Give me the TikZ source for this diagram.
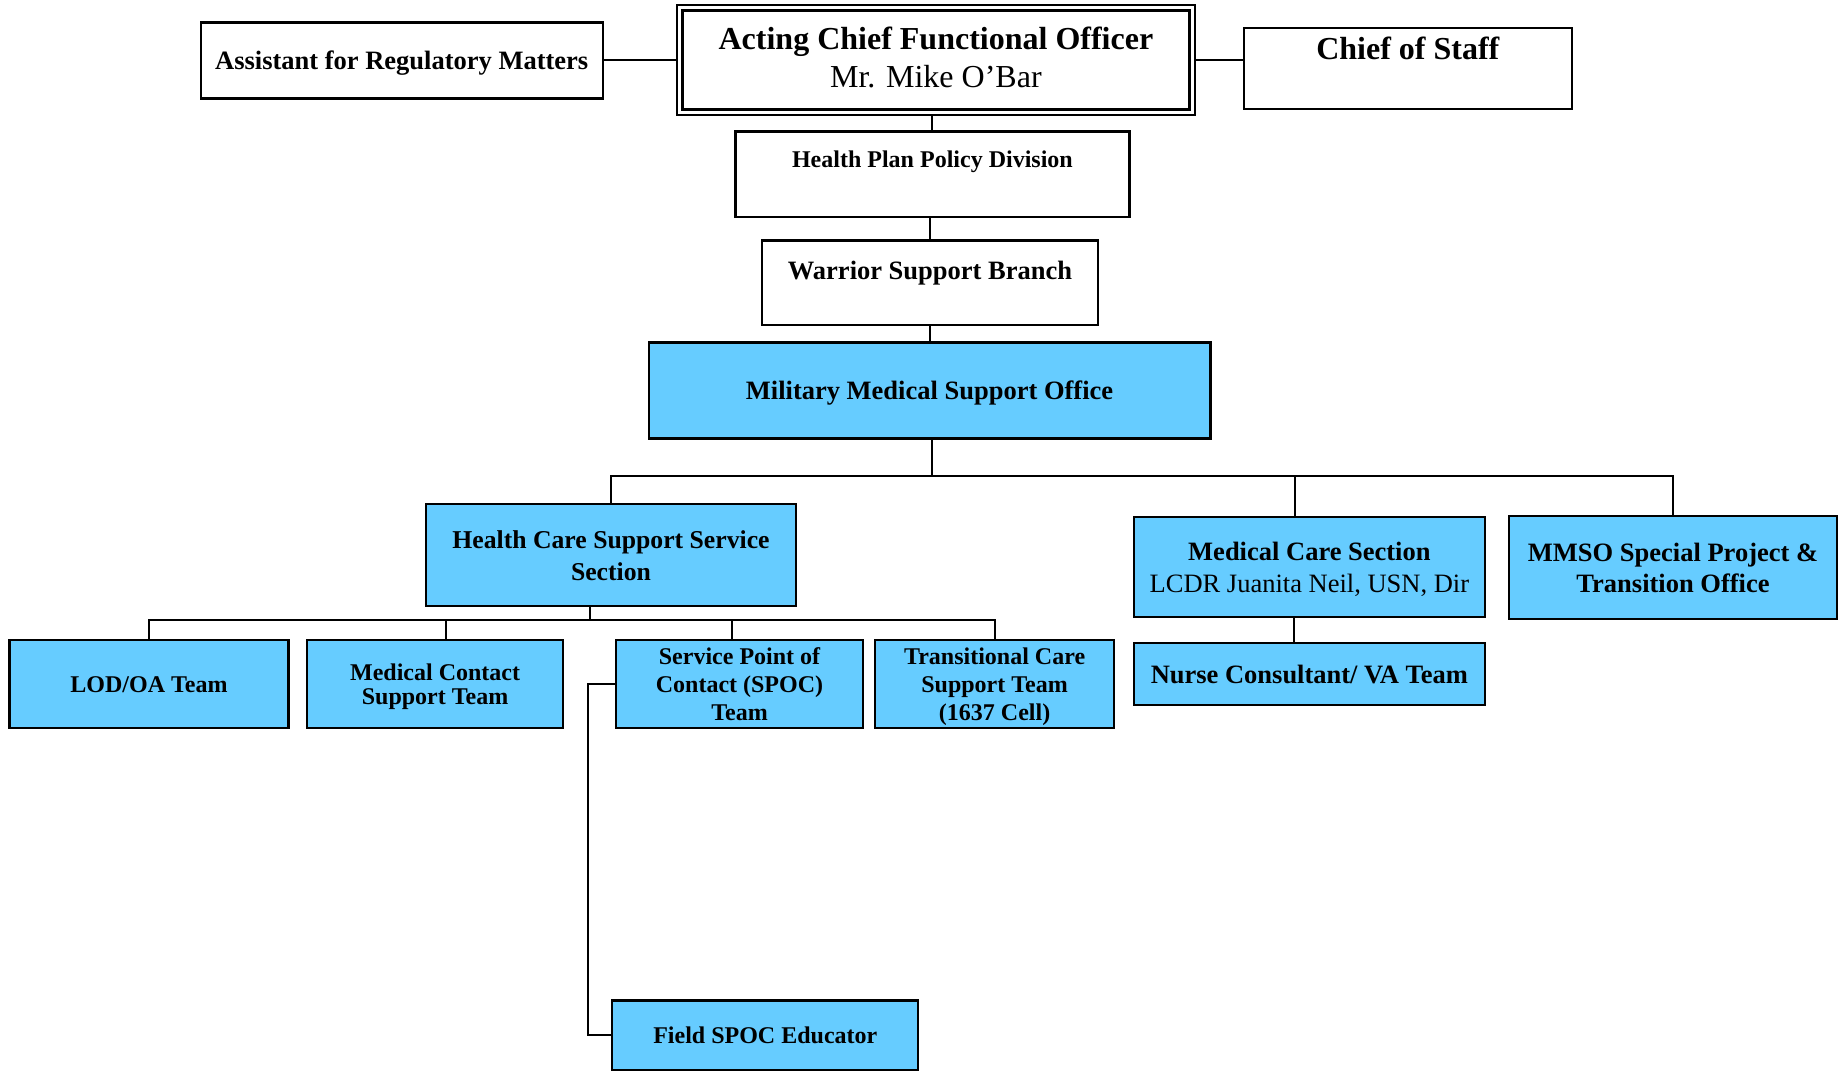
\documentclass[tikz,border=0pt]{standalone}
\usepackage{fontspec}
\setmainfont{Liberation Serif}
\definecolor{skyb}{RGB}{102,204,255}
\begin{document}
\begin{tikzpicture}[x=1pt,y=-1pt,
  box/.style={draw, line width=2.2pt, inner sep=0pt, align=center, text depth=0pt},
  bluebox/.style={box, fill=skyb},
  conn/.style={line width=2pt},
  lbl/.style={text depth=0pt, inner sep=0pt},
  fbig/.style={font=\fontsize{32}{37.5}\selectfont},
  fmid/.style={font=\bfseries\fontsize{26.5}{31.7}\selectfont},
  fhc/.style={font=\bfseries\fontsize{25.7}{31.7}\selectfont},
  fsm/.style={font=\bfseries\fontsize{24}{28}\selectfont},
  fsmt/.style={font=\bfseries\fontsize{24}{23.5}\selectfont}]
\useasboundingbox (0,0) rectangle (1839,1071);
% top row
\node[box, fmid, minimum width=402pt, minimum height=76pt] (asst) at (401.7,60.4) {Assistant for Regulatory Matters};
\node[box, line width=2.6pt, minimum width=518pt, minimum height=110pt] (acting) at (935.9,59.9) {};
\draw[line width=3pt] ([shift={(6.5pt,-6.5pt)}]acting.north west) rectangle ([shift={(-6.5pt,6.5pt)}]acting.south east);
\node[fbig, align=center] (actingtxt) at (935.9,57.5) {\textbf{Acting Chief Functional Officer}\\Mr. Mike O’Bar};
\node[box, minimum width=327.6pt, minimum height=81pt] (chief) at (1407.8,68.5) {};
\node[lbl, font=\bfseries\fontsize{32}{37.5}\selectfont] (chieftxt) at ([yshift=-21pt]chief.north) {Chief of Staff};
% chain
\node[box, minimum width=394pt, minimum height=85.6pt] (hppd) at (932.4,174.2) {};
\node[lbl, fsm] (hppdtxt) at ([yshift=-29pt]hppd.north) {Health Plan Policy Division};
\node[box, minimum width=335.5pt, minimum height=84.5pt] (warrior) at (930,282.7) {};
\node[lbl, fmid] (warriortxt) at ([yshift=-31pt]warrior.north) {Warrior Support Branch};
\node[bluebox, fmid, minimum width=561.8pt, minimum height=96pt] (mmso) at (929.5,390.5) {Military Medical Support Office};
% second level
\node[bluebox, fhc, minimum width=370.6pt, minimum height=102pt] (hcss) at (611,555.3) {Health Care Support Service\\Section};
\node[bluebox, fmid, minimum width=350.7pt, minimum height=99.7pt] (mcs) at (1309.4,567) {Medical Care Section\\\mdseries LCDR Juanita Neil, USN, Dir};
\node[bluebox, fmid, minimum width=327.3pt, minimum height=103.3pt] (special) at (1673,567.7) {MMSO Special Project \&\\Transition Office};
\node[bluebox, fmid, minimum width=350.7pt, minimum height=62pt] (nurse) at (1309.4,673.8) {Nurse Consultant/ VA Team};
% third level
\node[bluebox, fsm, minimum width=279pt, minimum height=88pt] (lod) at (149,684.3) {LOD/OA Team};
\node[bluebox, fsmt, minimum width=255.7pt, minimum height=88pt] (mct) at (435.1,684.3) {Medical Contact\\Support Team};
\node[bluebox, fsm, minimum width=247.5pt, minimum height=88pt] (spoc) at (739.5,684.3) {Service Point of\\Contact (SPOC)\\Team};
\node[bluebox, fsm, minimum width=239.2pt, minimum height=88pt] (tcst) at (994.6,684.3) {Transitional Care\\Support Team\\(1637 Cell)};
\node[bluebox, fsm, minimum width=306pt, minimum height=69.2pt] (field) at (765.3,1035) {Field SPOC Educator};
% connectors top
\draw[conn] (asst.east) -- (asst.east -| acting.west);
\draw[conn] (acting.east) -- (acting.east -| chief.west);
\draw[conn] (hppd.north |- acting.south) -- (hppd.north);
\draw[conn] (warrior.north |- hppd.south) -- (warrior.north);
\draw[conn] (warrior.south) -- (warrior.south |- mmso.north);
% upper bus
\coordinate (bus) at (932.4,476.2);
\coordinate (mcsdrop) at (1294.8,476.2);
\draw[conn] (bus |- mmso.south) -- (bus);
\draw[conn] (hcss.north) |- (special.north |- bus) -- (special.north);
\draw[conn] (mcsdrop) -- (mcsdrop |- mcs.north);
\coordinate (nursedrop) at (1293.7,640);
\draw[conn] (nursedrop |- mcs.south) -- (nursedrop |- nurse.north);
% lower bus
\coordinate (lbus) at (590,620.4);
\coordinate (mctdrop) at (445.7,620.4);
\coordinate (spocdrop) at (731.9,620.4);
\draw[conn] (lbus |- hcss.south) -- (lbus);
\draw[conn] (lod.north) |- (tcst.north |- lbus) -- (tcst.north);
\draw[conn] (mctdrop) -- (mctdrop |- mct.north);
\draw[conn] (spocdrop) -- (spocdrop |- spoc.north);
% spoc to field
\draw[conn] (spoc.west) -- ++(-26.9,0) |- (field.west);
\end{tikzpicture}
\end{document}
